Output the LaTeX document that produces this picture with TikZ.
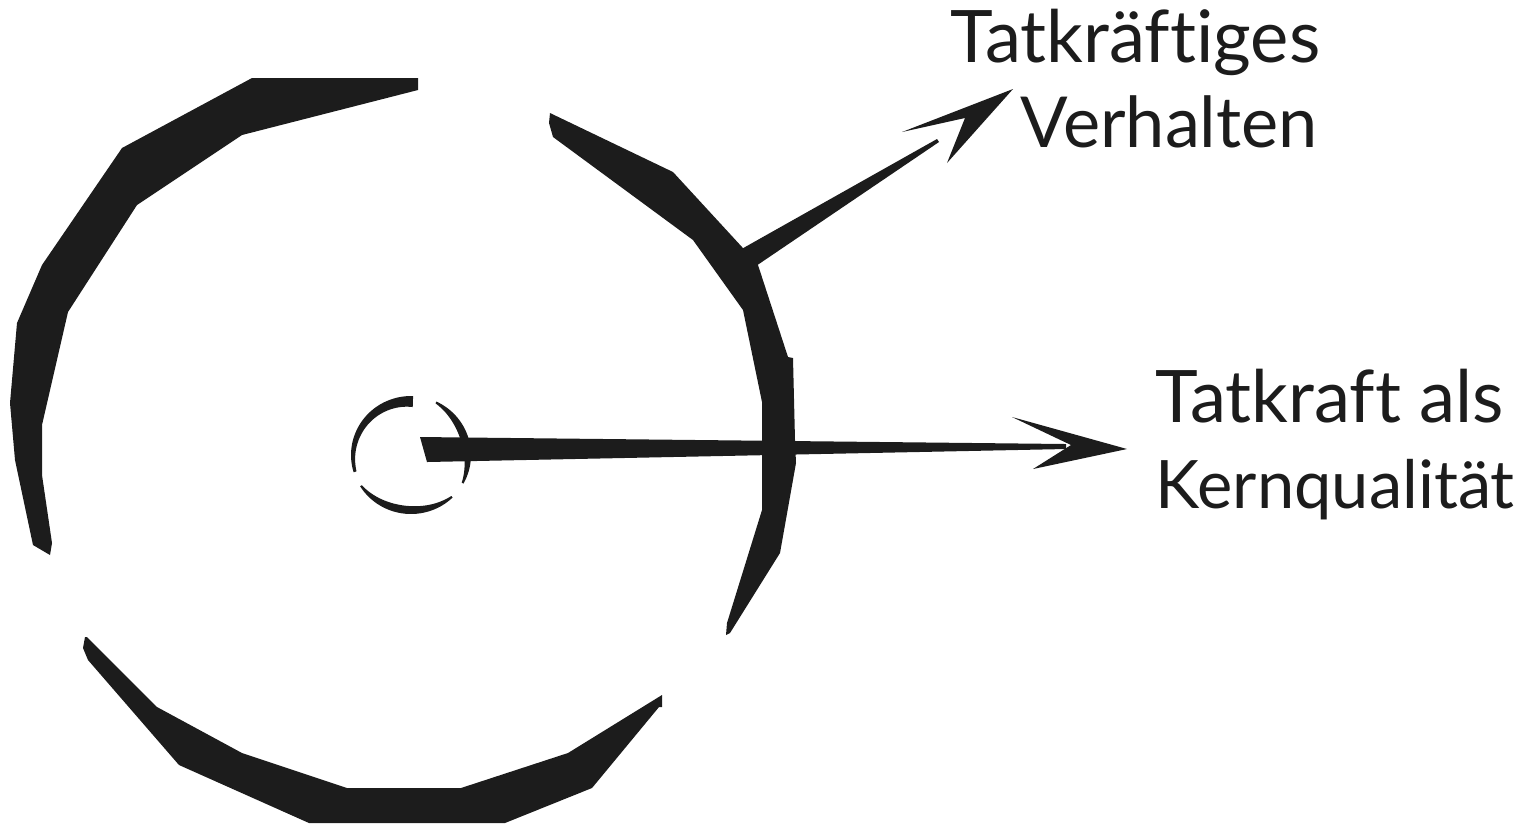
\documentclass[tikz,border=0pt]{standalone}
\usepackage{fontspec}
\setmainfont{Lato}[Ligatures=NoCommon]
\definecolor{ink}{HTML}{1C1C1C}
\begin{document}
\begin{tikzpicture}[x=0.01cm,y=-0.01cm,
  shape ink/.style={fill=ink},
  lbl/.style={inner sep=0pt, anchor=base west, text=ink, font=\fontsize{20}{24}\selectfont}]
\useasboundingbox (0,0) rectangle (1533,823);

% big broken circle
\fill[shape ink] (418,78) -- (252,78) -- (122,148) -- (42,265) -- (17,323) -- (10,403) -- (15,460) -- (33,545) -- (50,555)
  -- (52,543) -- (42,475) -- (42,425) -- (68,312) -- (137,205) -- (242,135) -- (418,90) -- cycle;
\fill[shape ink] (550,113) -- (673,172) -- (742,247) -- (758,265) -- (788,357) -- (793,358) -- (795,440) -- (796,463)
  -- (780,553) -- (730,633) -- (726,635) -- (727,623) -- (762,510) -- (762,402) -- (743,310) -- (693,240)
  -- (553,137) -- (549,123) -- cycle;
\fill[shape ink] (85,637) -- (83,648) -- (88,660) -- (179,765) -- (309,823) -- (505,823) -- (592,788) -- (659,707)
  -- (662,707) -- (662,695) -- (568,753) -- (461,788) -- (347,788) -- (242,753) -- (157,707) -- (87,637) -- cycle;

% small broken circle
\coordinate (core) at (411,455);
\fill[shape ink] plot[domain=88:197,samples=30,variable=\t] ({411+60*cos(\t)},{455-59*sin(\t)})
  -- plot[domain=197:88,samples=30,variable=\t] ({411+(57-8*(197-\t)/109)*cos(\t)},{455-(56-8*(197-\t)/109)*sin(\t)}) -- cycle;
\fill[shape ink] plot[domain=331:425,samples=30,variable=\t] ({411+60*cos(\t)},{455-59*sin(\t)})
  -- plot[domain=425:331,samples=30,variable=\t] ({411+(58-6*sin(1.9149*(\t-331)))*cos(\t)},{455-(57-6*sin(1.9149*(\t-331)))*sin(\t)}) -- cycle;
\fill[shape ink] plot[domain=212:314,samples=30,variable=\t] ({411+60*cos(\t)},{455-59*sin(\t)})
  -- plot[domain=314:212,samples=30,variable=\t] ({411+(58-6*sin(1.7647*(\t-212)))*cos(\t)},{455-(57-6*sin(1.7647*(\t-212)))*sin(\t)}) -- cycle;

% labels
\node[lbl, font=\fontsize{20.6}{24}\selectfont] (tv1) at (950,62) {Tatkräftiges};
\node[lbl] (tv2) at (1020,147) {Verhalten};
\node[lbl, font=\fontsize{20.6}{24}\selectfont] (tk1) at (1155,422) {Tatkraft als};
\node[lbl, font=\fontsize{19}{23}\selectfont] (tk2) at (1155,508) {Kernqualität};

% arrow to "Tatkraeftiges Verhalten"
\coordinate (vtip) at (1013,89);
\fill[shape ink] (738,251) -- (937,139) -- (939,142) -- (753,268) -- cycle;
\fill[shape ink] (902,132) -- (vtip) -- (947,163) -- (965,118) -- cycle;

% arrow to "Tatkraft als Kernqualitaet"
\coordinate (htip) at (1127,449);
\fill[shape ink] (420,437) -- (1066,444) -- (1066,449) -- (427,462) -- cycle;
\fill[shape ink] (1012,417) -- (htip) -- (1033,469) -- (1071,445) -- cycle;
\end{tikzpicture}
\end{document}
